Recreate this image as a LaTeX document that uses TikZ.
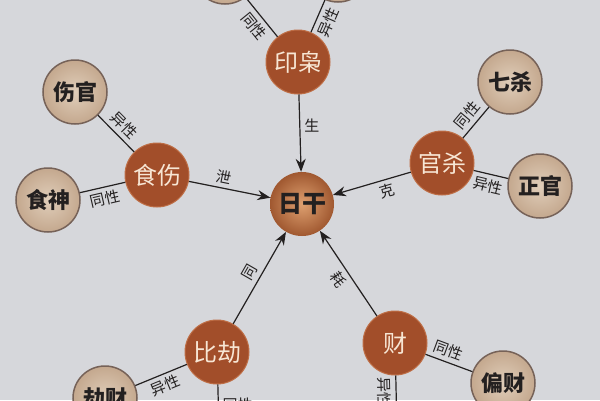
\documentclass[tikz,border=0pt]{standalone}
\usepackage{fontspec}
\newfontfamily\cjk{Noto Sans CJK SC}
\usetikzlibrary{arrows.meta}
\definecolor{paper}{RGB}{214,215,219}
\definecolor{hubbrown}{RGB}{162,78,42}
\definecolor{hubedge}{RGB}{190,110,70}
\definecolor{cream}{RGB}{247,230,212}
\definecolor{leafin}{RGB}{224,206,186}
\definecolor{leafout}{RGB}{196,168,142}
\definecolor{leafedge}{RGB}{118,98,88}
\definecolor{sunin}{RGB}{222,160,112}
\definecolor{sunout}{RGB}{160,88,48}
\definecolor{ink}{RGB}{35,32,32}
\tikzset{
  hub/.style={circle,minimum size=64pt,inner sep=0pt,fill=hubbrown,draw=hubedge,
    line width=1pt,text=cream,font=\cjk\fontsize{24}{24}\selectfont},
  leaf/.style={circle,minimum size=64pt,inner sep=0pt,inner color=leafin,outer color=leafout,
    draw=leafedge,line width=1.5pt,text=ink,font=\cjk\bfseries\fontsize{22}{22}\selectfont},
  sun/.style={circle,minimum size=64pt,inner sep=0pt,inner color=sunin,outer color=sunout,
    text=ink,font=\cjk\bfseries\fontsize{24}{24}\selectfont},
  tie/.style={draw=ink,line width=1.2pt},
  flow/.style={tie,-{Stealth[length=13pt,width=10pt]}},
  lbl/.style={font=\cjk\fontsize{15}{15}\selectfont,text=ink,inner sep=4pt}
}
\begin{document}
\begin{tikzpicture}[x=1pt,y=-1pt]
  \useasboundingbox (0,0) rectangle (600,400);
  \clip (0,0) rectangle (600,400);
  \fill[paper] (0,0) rectangle (600,400);
  % day master and its five groups
  \node[sun] (gan) at (302,204) {日干};
  \node[hub] (yin) at (298,62) {印枭};
  \node[hub] (shishang) at (157,175) {食伤};
  \node[hub] (guansha) at (442,163) {官杀};
  \node[hub] (bijie) at (217,352) {比劫};
  \node[hub] (cai) at (395,343) {财};
  % the ten gods
  \node[leaf] (ya) at (225,-28) {};
  \node[leaf] (yb) at (338,-30) {};
  \node[leaf] (shangguan) at (75,92) {伤官};
  \node[leaf] (shishen) at (48,200) {食神};
  \node[leaf] (qisha) at (510,82) {七杀};
  \node[leaf] (zhengguan) at (540,186) {正官};
  \node[leaf] (jiecai) at (105,398) {劫财};
  \node[leaf] (piancai) at (503,383) {偏财};
  \coordinate (bdown) at (219,430);
  \coordinate (cdown) at (397,430);
  % same or other sex
  \draw[tie] (yin) -- (ya) node[lbl,pos=0.45,sloped,below] {同性};
  \draw[tie] (yin) -- (yb) node[lbl,pos=0.45,sloped,below] {异性};
  \draw[tie] (shishang) -- (shangguan) node[lbl,midway,sloped,above] {异性};
  \draw[tie] (shishang) -- (shishen) node[lbl,midway,sloped,below] {同性};
  \draw[tie] (guansha) -- (qisha) node[lbl,midway,sloped,above] {同性};
  \draw[tie] (guansha) -- (zhengguan) node[lbl,midway,sloped,below] {异性};
  \draw[tie] (bijie) -- (jiecai) node[lbl,midway,sloped,below] {异性};
  \draw[tie] (bijie) -- (bdown) node[lbl,pos=0.2,anchor=north west] {同性};
  \draw[tie] (cai) -- (piancai) node[lbl,pos=0.4,sloped,above] {同性};
  \draw[tie] (cai) -- (cdown) node[lbl,pos=0.3,sloped,below] {异性};
  % what they do to the day master
  \draw[flow] (yin) -- (gan) node[lbl,pos=0.4,right] {生};
  \draw[flow] (shishang) -- (gan) node[lbl,pos=0.4,sloped,above] {泄};
  \draw[flow] (guansha) -- (gan) node[lbl,pos=0.35,sloped,below] {克};
  \draw[flow] (bijie) -- (gan) node[lbl,pos=0.5,sloped,above] {同};
  \draw[flow] (cai) -- (gan) node[lbl,pos=0.5,sloped,below] {耗};
\end{tikzpicture}
\end{document}
